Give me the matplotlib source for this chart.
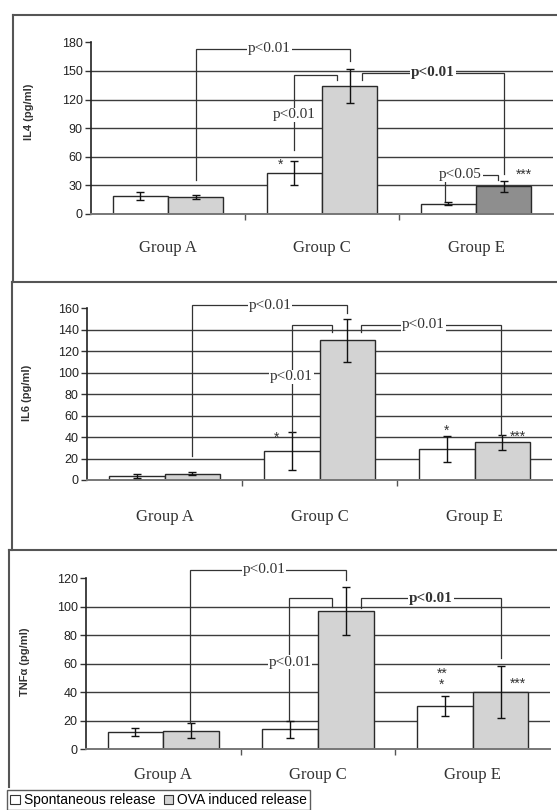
import matplotlib
matplotlib.use("Agg")
import matplotlib.pyplot as plt
from matplotlib.patches import Patch
from matplotlib.lines import Line2D

W, H = 557, 810

groups = ["Group A", "Group C", "Group E"]

il4_spont = [19, 43, 11]
il4_spont_err = [4, 13, 2]
il4_ova = [18, 134, 29]
il4_ova_err = [2, 18, 6]

il6_spont = [4, 27, 29]
il6_spont_err = [2, 18, 12]
il6_ova = [6, 130, 35]
il6_ova_err = [1, 20, 7]

tnf_spont = [12, 14, 30]
tnf_spont_err = [3, 6, 7]
tnf_ova = [13, 97, 40]
tnf_ova_err = [5, 17, 18]

il4_ticks = [0, 30, 60, 90, 120, 150, 180]
il6_ticks = [0, 20, 40, 60, 80, 100, 120, 140, 160]
tnf_ticks = [0, 20, 40, 60, 80, 100, 120]

SANS = "Liberation Sans"
SERIF = "Liberation Serif"

fig = plt.figure(figsize=(W / 100, H / 100), dpi=100)
fig.patch.set_facecolor("white")


def rect(x0, y0, x1, y1):
    return [x0 / W, 1 - y1 / H, (x1 - x0) / W, (y1 - y0) / H]


def panel(box, spont, spont_err, ova, ova_err, ticks, ylabel, lab_xy, pad,
          ova_colors=None):
    ax = fig.add_axes(rect(*box))
    ax.set_facecolor("none")
    bw = 0.36
    xs = list(range(len(groups)))
    xl = [x - bw / 2 for x in xs]
    xr = [x + bw / 2 for x in xs]
    for t in ticks[1:-1]:
        ax.axhline(t, color="#3c3c3c", lw=1.0, zorder=0)
    ax.bar(xl, spont, bw, color="white", edgecolor="#2a2a2a", lw=1.0, zorder=2)
    ax.bar(xr, ova, bw, color=ova_colors or "#d3d3d3", edgecolor="#2a2a2a",
           lw=1.0, zorder=2)
    ax.errorbar(xl, spont, yerr=spont_err, fmt="none", ecolor="#111",
                elinewidth=1, capsize=3, capthick=1, zorder=3)
    ax.errorbar(xr, ova, yerr=ova_err, fmt="none", ecolor="#111",
                elinewidth=1, capsize=3, capthick=1, zorder=3)
    ax.set_xlim(-0.5, 2.5)
    ax.set_ylim(ticks[0], ticks[-1])
    ax.set_yticks(ticks)
    ax.set_yticklabels([str(t) for t in ticks], fontfamily=SANS, fontsize=9,
                       color="#222")
    ax.tick_params(axis="y", length=4, width=1, color="#333", pad=2)
    ax.set_xticks(xs)
    ax.set_xticklabels(groups, fontfamily=SERIF, fontsize=12, color="#333")
    ax.tick_params(axis="x", length=0, pad=pad)
    ax.set_xticks([0.5, 1.5], minor=True)
    ax.tick_params(axis="x", which="minor", length=4, width=1, color="#555")
    for s in ["top", "right"]:
        ax.spines[s].set_visible(False)
    ax.spines["left"].set_color("#222")
    ax.spines["left"].set_linewidth(1.2)
    ax.spines["bottom"].set_color("#777")
    ax.spines["bottom"].set_linewidth(1.4)
    ax.set_ylabel(ylabel, fontfamily=SANS, fontsize=8, fontweight="bold",
                  color="#333")
    ax.yaxis.set_label_coords(*lab_xy)
    return ax


def bracket(ax, x0, x1, yl, ytop, yr, label, lx, ly, bold=False):
    ax.plot([x0, x0, x1, x1], [yl, ytop, ytop, yr], color="#333", lw=0.9,
            zorder=4, solid_joinstyle="miter", clip_on=False)
    ax.text(lx, ly, label, ha="center", va="center", fontfamily=SERIF,
            fontsize=11, fontweight="bold" if bold else "normal", color="#333",
            zorder=5, clip_on=False,
            bbox=dict(facecolor="white", edgecolor="none", pad=0.5))


def star(ax, x, y, s, size=10):
    ax.text(x, y, s, ha="center", va="center", fontfamily=SANS, fontsize=size,
            color="#333", zorder=5, linespacing=0.8)


# Panel 1: IL4
ax1 = panel((91, 42.3, 553, 214), il4_spont, il4_spont_err, il4_ova,
            il4_ova_err, il4_ticks, "IL4 (pg/ml)", (-0.123, 0.594), 19,
            ova_colors=["#d3d3d3", "#d3d3d3", "#8e8e8e"])
bracket(ax1, 0.18, 1.18, 36, 173, 160, "p<0.01", 0.66, 173)
bracket(ax1, 0.82, 1.10, 67, 146, 140, "p<0.01", 0.82, 104)
bracket(ax1, 1.26, 2.18, 140, 148, 42, "p<0.01", 1.72, 148, bold=True)
bracket(ax1, 1.80, 2.14, 14, 41, 36, "p<0.05", 1.90, 41)
star(ax1, 0.73, 52, "*")
star(ax1, 2.31, 41, "***")

# Panel 2: IL6
ax2 = panel((87, 308.3, 552, 480), il6_spont, il6_spont_err, il6_ova,
            il6_ova_err, il6_ticks, "IL6 (pg/ml)", (-0.118, 0.51), 21)
bracket(ax2, 0.18, 1.18, 22, 163, 156, "p<0.01", 0.68, 163)
bracket(ax2, 0.82, 1.08, 45, 144.5, 138, "p<0.01", 0.82, 96)
bracket(ax2, 1.27, 2.17, 138, 144.5, 42, "p<0.01", 1.67, 144.5)
star(ax2, 0.72, 39, "*")
star(ax2, 1.82, 46, "*")
star(ax2, 2.28, 40, "***")

# Panel 3: TNF-alpha
ax3 = panel((86, 578.3, 550, 749), tnf_spont, tnf_spont_err, tnf_ova,
            tnf_ova_err, tnf_ticks, "TNF\u03b1 (pg/ml)", (-0.121, 0.51), 13)
bracket(ax3, 0.17, 1.18, 18, 126, 119, "p<0.01", 0.65, 126)
bracket(ax3, 0.81, 1.09, 20.4, 106, 100, "p<0.01", 0.82, 61)
bracket(ax3, 1.28, 2.18, 99, 106, 64, "p<0.01", 1.73, 106, bold=True)
star(ax3, 1.80, 49, "**\n*")
star(ax3, 2.29, 46, "***")

# panel frames
def fline(xs, ys, c="#555", lw=1.5):
    fig.add_artist(Line2D([x / W for x in xs], [1 - y / H for y in ys],
                          color=c, lw=lw, transform=fig.transFigure))

fline([13, 557], [15, 15])
fline([13, 13], [15, 282])
fline([12, 557], [282, 282])
fline([12, 12], [282, 550])
fline([9, 557], [550, 550])
fline([9, 9], [550, 787])

leg = fig.legend(
    handles=[Patch(facecolor="white", edgecolor="#333", lw=0.8),
             Patch(facecolor="#d3d3d3", edgecolor="#333", lw=0.8)],
    labels=["Spontaneous release", "OVA induced release"],
    loc="lower left", bbox_to_anchor=(7 / W, 0.0), ncol=2, frameon=True,
    fancybox=False, edgecolor="#333", prop={"family": SANS, "size": 10},
    handlelength=0.7, handleheight=0.7, handletextpad=0.3, columnspacing=0.6,
    borderpad=0.2, borderaxespad=0.0)
leg.get_frame().set_linewidth(1.0)

fig.savefig("out.png", dpi=100, facecolor="white")
